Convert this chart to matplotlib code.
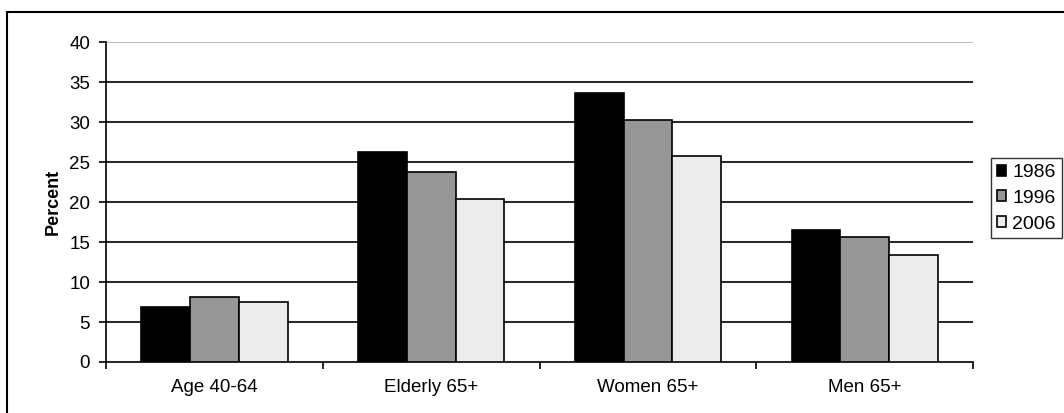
import matplotlib.pyplot as plt
import numpy as np
from matplotlib.patches import Rectangle

plt.rcParams['font.family'] = ['Liberation Sans', 'DejaVu Sans']

categories = ['Age 40-64', 'Elderly 65+', 'Women 65+', 'Men 65+']
years = ['1986', '1996', '2006']
v1986 = [6.9, 26.2, 33.7, 16.5]
v1996 = [8.1, 23.8, 30.3, 15.6]
v2006 = [7.5, 20.4, 25.8, 13.4]

colors = ['#000000', '#969696', '#ececec']

fig = plt.figure(figsize=(10.64, 4.13), dpi=100)
ax = fig.add_axes([0.0996, 0.1235, 0.815, 0.7745])

x = np.arange(len(categories))
w = 0.225
for i, (vals, c) in enumerate(zip([v1986, v1996, v2006], colors)):
    ax.bar(x + (i - 1) * w, vals, w, color=c, edgecolor='black', linewidth=1.2,
           label=years[i], zorder=3)

ax.set_xlim(-0.5, 3.5)
ax.set_ylim(0, 40)
ax.set_yticks(range(0, 41, 5))
ax.set_xticks(x)
ax.set_xticklabels(categories, fontsize=13.5)
ax.set_xticks(np.arange(-0.5, 4.0, 1.0), minor=True)
ax.tick_params(axis='x', which='major', length=0, pad=12)
ax.tick_params(axis='x', which='minor', length=5, width=1.2, direction='out')
ax.tick_params(axis='y', length=5, width=1.2, direction='out', labelsize=13.5, pad=6.5)

for yv in range(5, 36, 5):
    ax.axhline(yv, color='black', linewidth=1.2, zorder=1)
ax.axhline(40, color='#b0b0b0', linewidth=1.2, zorder=1)

for s in ['top', 'right']:
    ax.spines[s].set_visible(False)
ax.spines['left'].set_linewidth(1.2)
ax.spines['bottom'].set_linewidth(1.2)

ax.set_ylabel('Percent', fontsize=13, fontweight='bold', labelpad=5,
              family=['Liberation Sans Narrow', 'Liberation Sans'])

leg = ax.legend(loc='upper left', bbox_to_anchor=(1.0205, 0.637), frameon=True,
                fancybox=False, edgecolor='black', fontsize=14,
                handlelength=0.5, handleheight=0.5, handletextpad=0.3,
                borderpad=0.3, labelspacing=0.45, borderaxespad=0)
leg.get_frame().set_linewidth(1.0)

fig.patches.append(Rectangle((7 / 1064, -0.1), 1.2, (413 - 12) / 413 + 0.1,
                             transform=fig.transFigure, fill=False,
                             edgecolor='black', linewidth=1.5))

fig.savefig('out.png', dpi=100)
